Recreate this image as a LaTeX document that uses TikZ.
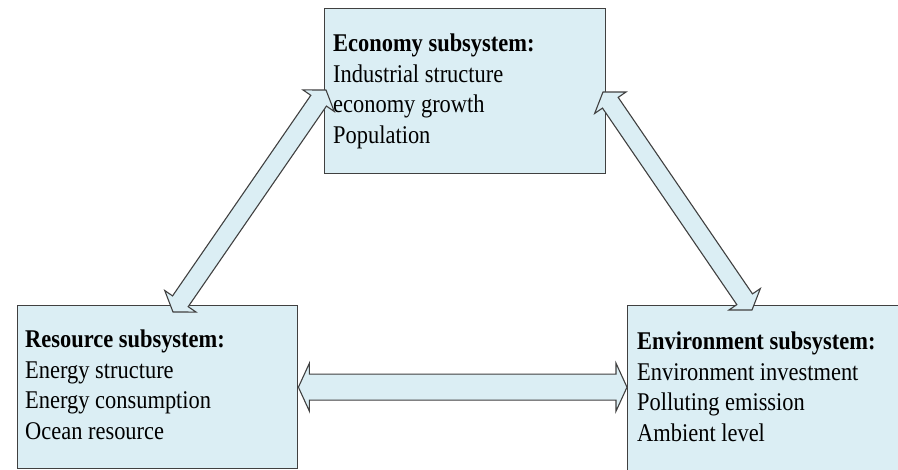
\documentclass[tikz,border=0pt]{standalone}
\usepackage{fontspec}
\setmainfont{Liberation Serif}[FakeStretch=0.88]
\usetikzlibrary{calc}

\definecolor{boxblue}{RGB}{219,238,244}
\definecolor{edgegray}{RGB}{64,64,64}

% double headed block arrow: from, to, shaft half width, head half width, head length
\newcommand{\blockarrow}[5]{%
    \coordinate (p) at ($(#1)!#5!(#2)$);
    \coordinate (q) at ($(#2)!#5!(#1)$);
    \draw[arrowbody] (#1) -- ($(p)!#4!90:(#2)$) -- ($(p)!#3!90:(#2)$)
        -- ($(q)!#3!-90:(#1)$) -- ($(q)!#4!-90:(#1)$) -- (#2)
        -- ($(q)!#4!90:(#1)$) -- ($(q)!#3!90:(#1)$)
        -- ($(p)!#3!-90:(#2)$) -- ($(p)!#4!-90:(#2)$) -- cycle;
}

\begin{document}
\begin{tikzpicture}[x=1pt, y=-1pt,
    box/.style={draw=edgegray, line width=1.4pt, fill=boxblue, rectangle, inner sep=0pt, anchor=north west},
    boxtext/.style={anchor=north west, align=left, inner sep=0pt, font=\fontsize{25.5}{30.5}\selectfont},
    arrowbody/.style={draw=edgegray, line width=1.1pt, fill=boxblue, line join=miter}]

    \clip (0, 0) rectangle (898, 470);

    % the three subsystems
    \node [box, minimum width=281, minimum height=165] (eco) at (324, 8) {};
    \node [box, minimum width=280, minimum height=163] (res) at (17, 305) {};
    \node [box, minimum width=290, minimum height=180] (env) at (627, 305) {};

    \node [boxtext] (ecotext) at (333, 34) {\textbf{Economy subsystem:}\\Industrial structure\\economy growth\\Population};
    \node [boxtext] (restext) at (25, 330) {\textbf{Resource subsystem:}\\Energy structure\\Energy consumption\\Ocean resource};
    \node [boxtext] (envtext) at (637, 332) {\textbf{Environment subsystem:}\\Environment investment\\Polluting emission\\Ambient level};

    % arrow ends
    \coordinate (ecoL) at (326, 90);
    \coordinate (resT) at (173, 312);
    \coordinate (ecoR) at (603, 92);
    \coordinate (envT) at (752, 310);
    \coordinate (resR) at (res.east);
    \coordinate (envL) at (res.east -| env.west);

    \blockarrow{resT}{ecoL}{9.5pt}{19pt}{13pt}
    \blockarrow{ecoR}{envT}{9.5pt}{19pt}{13pt}
    \blockarrow{resR}{envL}{13pt}{24pt}{11pt}
\end{tikzpicture}
\end{document}
